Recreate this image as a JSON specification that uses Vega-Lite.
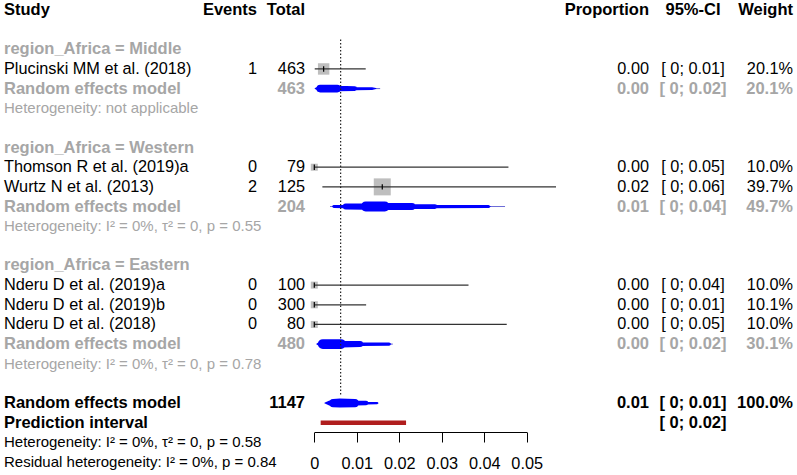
{
  "$schema": "https://vega.github.io/schema/vega-lite/v6.json",
  "width": 797,
  "height": 432,
  "autosize": "none",
  "padding": {"left": 0, "top": 0, "right": 0, "bottom": 43},
  "background": "white",
  "config": {"view": {"stroke": null}, "font": "Liberation Sans", "text": {"font": "Liberation Sans"}},
  "datasets": {
    "text": [
      {"row": 0, "col": 0, "text": "Study", "kind": "header"},
      {"row": 0, "col": 1, "text": "Events", "kind": "header"},
      {"row": 0, "col": 2, "text": "Total", "kind": "header"},
      {"row": 0, "col": 3, "text": "Proportion", "kind": "header"},
      {"row": 0, "col": 4, "text": "95%-CI", "kind": "header"},
      {"row": 0, "col": 5, "text": "Weight", "kind": "header"},
      {"row": 2, "col": 0, "text": "region_Africa = Middle", "kind": "sub"},
      {"row": 3, "col": 0, "text": "Plucinski MM et al. (2018)", "kind": "study"},
      {"row": 3, "col": 1, "text": "1", "kind": "study"},
      {"row": 3, "col": 2, "text": "463", "kind": "study"},
      {"row": 3, "col": 3, "text": "0.00", "kind": "study"},
      {"row": 3, "col": 4, "text": "[ 0; 0.01]", "kind": "study"},
      {"row": 3, "col": 5, "text": "20.1%", "kind": "study"},
      {"row": 4, "col": 0, "text": "Random effects model", "kind": "sub"},
      {"row": 4, "col": 2, "text": "463", "kind": "sub"},
      {"row": 4, "col": 3, "text": "0.00", "kind": "sub"},
      {"row": 4, "col": 4, "text": "[ 0; 0.02]", "kind": "sub"},
      {"row": 4, "col": 5, "text": "20.1%", "kind": "sub"},
      {"row": 5, "col": 0, "text": "Heterogeneity: not applicable", "kind": "het"},
      {"row": 7, "col": 0, "text": "region_Africa = Western", "kind": "sub"},
      {"row": 8, "col": 0, "text": "Thomson R et al. (2019)a", "kind": "study"},
      {"row": 8, "col": 1, "text": "0", "kind": "study"},
      {"row": 8, "col": 2, "text": "79", "kind": "study"},
      {"row": 8, "col": 3, "text": "0.00", "kind": "study"},
      {"row": 8, "col": 4, "text": "[ 0; 0.05]", "kind": "study"},
      {"row": 8, "col": 5, "text": "10.0%", "kind": "study"},
      {"row": 9, "col": 0, "text": "Wurtz N et al. (2013)", "kind": "study"},
      {"row": 9, "col": 1, "text": "2", "kind": "study"},
      {"row": 9, "col": 2, "text": "125", "kind": "study"},
      {"row": 9, "col": 3, "text": "0.02", "kind": "study"},
      {"row": 9, "col": 4, "text": "[ 0; 0.06]", "kind": "study"},
      {"row": 9, "col": 5, "text": "39.7%", "kind": "study"},
      {"row": 10, "col": 0, "text": "Random effects model", "kind": "sub"},
      {"row": 10, "col": 2, "text": "204", "kind": "sub"},
      {"row": 10, "col": 3, "text": "0.01", "kind": "sub"},
      {"row": 10, "col": 4, "text": "[ 0; 0.04]", "kind": "sub"},
      {"row": 10, "col": 5, "text": "49.7%", "kind": "sub"},
      {"row": 11, "col": 0, "text": "Heterogeneity: I² = 0%, τ² = 0, p = 0.55", "kind": "het"},
      {"row": 13, "col": 0, "text": "region_Africa = Eastern", "kind": "sub"},
      {"row": 14, "col": 0, "text": "Nderu D et al. (2019)a", "kind": "study"},
      {"row": 14, "col": 1, "text": "0", "kind": "study"},
      {"row": 14, "col": 2, "text": "100", "kind": "study"},
      {"row": 14, "col": 3, "text": "0.00", "kind": "study"},
      {"row": 14, "col": 4, "text": "[ 0; 0.04]", "kind": "study"},
      {"row": 14, "col": 5, "text": "10.0%", "kind": "study"},
      {"row": 15, "col": 0, "text": "Nderu D et al. (2019)b", "kind": "study"},
      {"row": 15, "col": 1, "text": "0", "kind": "study"},
      {"row": 15, "col": 2, "text": "300", "kind": "study"},
      {"row": 15, "col": 3, "text": "0.00", "kind": "study"},
      {"row": 15, "col": 4, "text": "[ 0; 0.01]", "kind": "study"},
      {"row": 15, "col": 5, "text": "10.1%", "kind": "study"},
      {"row": 16, "col": 0, "text": "Nderu D et al. (2018)", "kind": "study"},
      {"row": 16, "col": 1, "text": "0", "kind": "study"},
      {"row": 16, "col": 2, "text": "80", "kind": "study"},
      {"row": 16, "col": 3, "text": "0.00", "kind": "study"},
      {"row": 16, "col": 4, "text": "[ 0; 0.05]", "kind": "study"},
      {"row": 16, "col": 5, "text": "10.0%", "kind": "study"},
      {"row": 17, "col": 0, "text": "Random effects model", "kind": "sub"},
      {"row": 17, "col": 2, "text": "480", "kind": "sub"},
      {"row": 17, "col": 3, "text": "0.00", "kind": "sub"},
      {"row": 17, "col": 4, "text": "[ 0; 0.02]", "kind": "sub"},
      {"row": 17, "col": 5, "text": "30.1%", "kind": "sub"},
      {"row": 18, "col": 0, "text": "Heterogeneity: I² = 0%, τ² = 0, p = 0.78", "kind": "het"},
      {"row": 20, "col": 0, "text": "Random effects model", "kind": "overall"},
      {"row": 20, "col": 2, "text": "1147", "kind": "overall"},
      {"row": 20, "col": 3, "text": "0.01", "kind": "overall"},
      {"row": 20, "col": 4, "text": "[ 0; 0.01]", "kind": "overall"},
      {"row": 20, "col": 5, "text": "100.0%", "kind": "overall"},
      {"row": 21, "col": 0, "text": "Prediction interval", "kind": "overall"},
      {"row": 21, "col": 4, "text": "[ 0; 0.02]", "kind": "overall"},
      {"row": 22, "col": 0, "text": "Heterogeneity: I² = 0%, τ² = 0, p = 0.58", "kind": "ohet"},
      {"row": 23, "col": 0, "text": "Residual heterogeneity: I² = 0%, p = 0.84", "kind": "ohet"}
    ],
    "studies": [
      {"row": 3, "est": 0.0022, "lo": 0.0001, "hi": 0.0121, "w": 20.1},
      {"row": 8, "est": 0, "lo": 0, "hi": 0.0457, "w": 10.0},
      {"row": 9, "est": 0.016, "lo": 0.0019, "hi": 0.0569, "w": 39.7},
      {"row": 14, "est": 0, "lo": 0, "hi": 0.0363, "w": 10.0},
      {"row": 15, "est": 0, "lo": 0, "hi": 0.0122, "w": 10.1},
      {"row": 16, "est": 0, "lo": 0, "hi": 0.0453, "w": 10.0}
    ],
    "dlines": [
      {"grp": "Middle", "row": 4, "lo": 0.0002, "hi": 0.0155},
      {"grp": "Western", "row": 10, "lo": 0.0037, "hi": 0.0449},
      {"grp": "Eastern", "row": 17, "lo": 0.0006, "hi": 0.0185}
    ],
    "dshape": [
      {"grp": "Middle", "row": 4, "x": 0.0002, "h": 0},
      {"grp": "Middle", "row": 4, "x": 0.0014, "h": 0.7},
      {"grp": "Middle", "row": 4, "x": 0.0054, "h": 0.7},
      {"grp": "Middle", "row": 4, "x": 0.0056, "h": 0.5},
      {"grp": "Middle", "row": 4, "x": 0.0095, "h": 0.45},
      {"grp": "Middle", "row": 4, "x": 0.0097, "h": 0.28},
      {"grp": "Middle", "row": 4, "x": 0.0136, "h": 0.25},
      {"grp": "Middle", "row": 4, "x": 0.0145, "h": 0},
      {"grp": "Western", "row": 10, "x": 0.0043, "h": 0},
      {"grp": "Western", "row": 10, "x": 0.0046, "h": 0.27},
      {"grp": "Western", "row": 10, "x": 0.0072, "h": 0.3},
      {"grp": "Western", "row": 10, "x": 0.0074, "h": 0.55},
      {"grp": "Western", "row": 10, "x": 0.0119, "h": 0.6},
      {"grp": "Western", "row": 10, "x": 0.0121, "h": 0.9},
      {"grp": "Western", "row": 10, "x": 0.0166, "h": 0.9},
      {"grp": "Western", "row": 10, "x": 0.0168, "h": 0.64},
      {"grp": "Western", "row": 10, "x": 0.023, "h": 0.62},
      {"grp": "Western", "row": 10, "x": 0.0232, "h": 0.45},
      {"grp": "Western", "row": 10, "x": 0.0284, "h": 0.43},
      {"grp": "Western", "row": 10, "x": 0.0286, "h": 0.32},
      {"grp": "Western", "row": 10, "x": 0.041, "h": 0.28},
      {"grp": "Western", "row": 10, "x": 0.0414, "h": 0},
      {"grp": "Eastern", "row": 17, "x": 0.0006, "h": 0},
      {"grp": "Eastern", "row": 17, "x": 0.002, "h": 0.9},
      {"grp": "Eastern", "row": 17, "x": 0.0063, "h": 0.9},
      {"grp": "Eastern", "row": 17, "x": 0.0065, "h": 0.6},
      {"grp": "Eastern", "row": 17, "x": 0.0108, "h": 0.55},
      {"grp": "Eastern", "row": 17, "x": 0.011, "h": 0.35},
      {"grp": "Eastern", "row": 17, "x": 0.0176, "h": 0.3},
      {"grp": "Eastern", "row": 17, "x": 0.018, "h": 0},
      {"grp": "Overall", "row": 20, "x": 0.0025, "h": 0},
      {"grp": "Overall", "row": 20, "x": 0.0044, "h": 0.75},
      {"grp": "Overall", "row": 20, "x": 0.006, "h": 0.82},
      {"grp": "Overall", "row": 20, "x": 0.0096, "h": 0.75},
      {"grp": "Overall", "row": 20, "x": 0.0098, "h": 0.45},
      {"grp": "Overall", "row": 20, "x": 0.0122, "h": 0.4},
      {"grp": "Overall", "row": 20, "x": 0.0124, "h": 0.25},
      {"grp": "Overall", "row": 20, "x": 0.0148, "h": 0.2},
      {"grp": "Overall", "row": 20, "x": 0.015, "h": 0}
    ],
    "pred": [{"row": 21, "lo": 0.0015, "hi": 0.0216}],
    "ref": [{"est": 0.0062}]
  },
  "layer": [
    {
      "layer": [
        {
          "data": {"name": "studies"},
          "mark": {"type": "point", "shape": "square", "filled": true, "color": "#bebebe", "opacity": 1},
          "encoding": {
            "x": {"field": "est", "type": "quantitative", "scale": {"domain": [0, 0.05], "range": [314.3, 526.7], "zero": false, "nice": false},
              "axis": {"values": [0, 0.01, 0.02, 0.03, 0.04, 0.05], "format": "~g", "title": null, "grid": false, "orient": "bottom",
                "domainColor": "#000000", "domainWidth": 1, "tickColor": "#000000", "tickWidth": 1, "tickSize": 10,
                "labelFont": "Liberation Sans", "labelFontSize": 16.3, "labelColor": "#000000", "labelPadding": 13,
                "labelFlush": false, "labelOverlap": false, "labelBound": false}},
            "y": {"field": "row", "type": "quantitative", "scale": {"domain": [0, 23], "range": [10, 462], "zero": false, "nice": false}, "axis": null},
            "size": {"field": "w", "type": "quantitative", "scale": {"domain": [10, 39.7], "range": [49, 289], "zero": false}, "legend": null}
          }
        },
        {
          "data": {"name": "studies"},
          "mark": {"type": "rule", "color": "#333333", "strokeWidth": 1.3},
          "encoding": {
            "x": {"field": "lo", "type": "quantitative"},
            "x2": {"field": "hi"},
            "y": {"field": "row", "type": "quantitative", "axis": null}
          }
        },
        {
          "data": {"name": "studies"},
          "mark": {"type": "point", "shape": "M0,-1L0,1", "size": 30, "filled": false, "stroke": "#000000", "strokeWidth": 1.2, "opacity": 1},
          "encoding": {
            "x": {"field": "est", "type": "quantitative"},
            "y": {"field": "row", "type": "quantitative", "axis": null}
          }
        },
        {
          "data": {"name": "dlines"},
          "mark": {"type": "rule", "color": "#6b6bd6", "strokeWidth": 1},
          "encoding": {
            "x": {"field": "lo", "type": "quantitative"},
            "x2": {"field": "hi"},
            "y": {"field": "row", "type": "quantitative", "axis": null}
          }
        },
        {
          "data": {"name": "dshape"},
          "mark": {"type": "trail", "color": "#0000ff", "opacity": 1},
          "encoding": {
            "x": {"field": "x", "type": "quantitative"},
            "y": {"field": "row", "type": "quantitative", "axis": null},
            "detail": {"field": "grp", "type": "nominal"},
            "size": {"field": "h", "type": "quantitative", "scale": {"domain": [0, 1], "range": [0, 11]}, "legend": null}
          }
        },
        {
          "data": {"name": "pred"},
          "mark": {"type": "rule", "color": "#b01e1e", "strokeWidth": 4.5, "strokeCap": "butt"},
          "encoding": {
            "x": {"field": "lo", "type": "quantitative"},
            "x2": {"field": "hi"},
            "y": {"field": "row", "type": "quantitative", "axis": null}
          }
        },
        {
          "data": {"name": "ref"},
          "mark": {"type": "rule", "color": "#222222", "strokeWidth": 1.2, "strokeDash": [1.5, 2]},
          "encoding": {
            "x": {"field": "est", "type": "quantitative"},
            "y": {"datum": 1.5, "type": "quantitative", "axis": null},
            "y2": {"datum": 19.6}
          }
        }
      ],
      "resolve": {"scale": {"size": "independent"}}
    },
    {
      "data": {"name": "text"},
      "encoding": {
        "x": {"field": "col", "type": "quantitative", "scale": {"domain": [0, 1, 2, 3, 4, 5], "range": [4, 257, 305, 649, 693, 793], "zero": false, "nice": false}, "axis": null},
        "y": {"field": "row", "type": "quantitative", "axis": null},
        "text": {"field": "text", "type": "nominal"},
        "color": {"field": "kind", "type": "nominal", "scale": {"domain": ["header", "study", "sub", "het", "overall", "ohet"], "range": ["#000000", "#000000", "#a6a6a6", "#a6a6a6", "#000000", "#000000"]}, "legend": null}
      },
      "layer": [
        {
          "transform": [{"filter": "(datum.kind == 'header' || datum.kind == 'sub' || datum.kind == 'overall') && datum.col == 0"}],
          "mark": {"type": "text", "align": "left", "baseline": "middle", "fontWeight": "bold", "fontSize": 16.5, "font": "Liberation Sans"}
        },
        {
          "transform": [{"filter": "(datum.kind == 'header' || datum.kind == 'sub' || datum.kind == 'overall') && datum.col != 0 && datum.col != 4"}],
          "mark": {"type": "text", "align": "right", "baseline": "middle", "fontWeight": "bold", "fontSize": 16.5, "font": "Liberation Sans"}
        },
        {
          "transform": [{"filter": "(datum.kind == 'header' || datum.kind == 'sub' || datum.kind == 'overall') && datum.col == 4"}],
          "mark": {"type": "text", "align": "center", "baseline": "middle", "fontWeight": "bold", "fontSize": 16.5, "font": "Liberation Sans"}
        },
        {
          "transform": [{"filter": "datum.kind == 'study' && datum.col == 0"}],
          "mark": {"type": "text", "align": "left", "baseline": "middle", "fontSize": 16.3, "font": "Liberation Sans"}
        },
        {
          "transform": [{"filter": "datum.kind == 'study' && datum.col != 0 && datum.col != 4"}],
          "mark": {"type": "text", "align": "right", "baseline": "middle", "fontSize": 16.3, "font": "Liberation Sans"}
        },
        {
          "transform": [{"filter": "datum.kind == 'study' && datum.col == 4"}],
          "mark": {"type": "text", "align": "center", "baseline": "middle", "fontSize": 16.3, "font": "Liberation Sans"}
        },
        {
          "transform": [{"filter": "datum.kind == 'het' || datum.kind == 'ohet'"}],
          "mark": {"type": "text", "align": "left", "baseline": "middle", "fontSize": 15, "font": "Liberation Sans"}
        }
      ]
    }
  ],
  "resolve": {"scale": {"x": "independent", "size": "independent", "color": "independent"}}
}
